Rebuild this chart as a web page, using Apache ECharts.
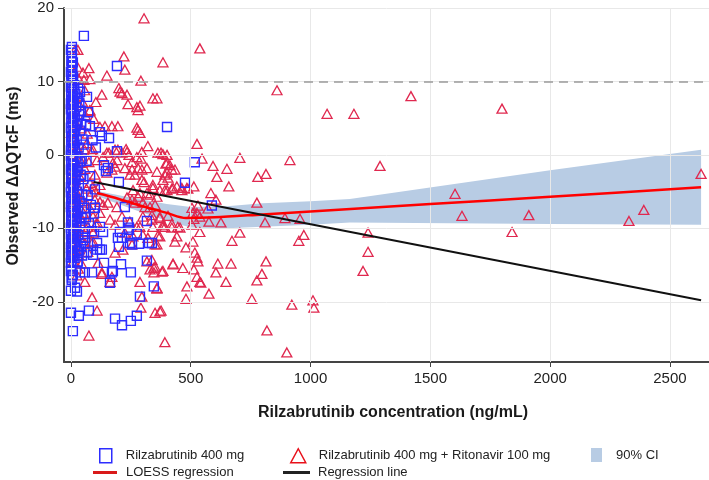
<!DOCTYPE html>
<html><head><meta charset="utf-8">
<script src="https://cdn.jsdelivr.net/npm/echarts@6/dist/echarts.min.js"></script>
<style>html,body{margin:0;padding:0;background:#fff}#c{width:709px;height:480px}</style>
</head><body><div id="c"></div>
<script>
const xTicks = [0, 500, 1000, 1500, 2000, 2500];
const yTicks = [-20, -10, 0, 10, 20];
const refLineY = 10;
const xTitle = 'Rilzabrutinib concentration (ng/mL)';
const yTitle = 'Observed ΔΔQTcF (ms)';
const nameBlue = 'Rilzabrutinib 400 mg';
const nameRed = 'Rilzabrutinib 400 mg + Ritonavir 100 mg';
const nameCI = '90% CI';
const nameLoess = 'LOESS regression';
const nameReg = 'Regression line';

// Rilzabrutinib 400 mg (blue squares): [concentration, ddQTcF]
const bluePts = [
[2,9.8],[5,9.2],[1,8.6],[8,8.0],[3,7.5],[6,6.9],[0,6.2],[4,5.6],[9,5.0],[2,4.4],[7,3.8],[1,3.1],[5,2.5],[10,1.9],[3,1.2],[0,0.6],[6,0.0],[2,-0.7],[8,-1.3],[4,-1.9],[1,-2.6],[7,-3.2],[3,-3.8],[9,-4.5],[0,-5.1],[5,-5.7],[2,-6.4],[8,-7.0],[4,-7.6],[1,-8.3],[6,-8.9],[3,-9.5],[10,-10.2],[0,-10.8],[5,-11.4],[2,-12.1],[7,-12.7],[4,-13.3],[1,-15.2],[6,-16.4],[3,-17.0],
[0,9.3],[1,7.9],[0,7.0],[2,5.1],[0,3.7],[1,2.0],[0,-0.1],[1,-1.2],[0,-2.0],[1,-3.3],[0,-4.4],[1,-6.0],[0,-7.1],[1,-9.0],[0,-9.9],[1,-11.8],[0,-12.6],[1,-13.6],[0,-15.8],[2,-14.4],
[11,8.9],[9,7.3],[11,6.0],[10,4.6],[11,3.3],[9,0.9],[11,-0.6],[10,-2.2],[11,-4.0],[9,-5.4],[11,-6.7],[10,-8.3],[11,-9.7],[9,-11.2],[11,-12.0],[10,-13.8],
[14,9.5],[18,8.3],[12,7.2],[22,6.5],[16,5.3],[20,4.0],[13,2.8],[24,2.0],[17,0.9],[21,-0.2],[15,-1.5],[23,-2.3],[19,-3.5],[12,-4.2],[25,-5.0],[16,-6.0],[21,-6.8],[14,-7.9],[18,-8.7],[23,-9.6],[13,-10.4],[20,-11.2],[17,-12.3],[24,-13.1],[15,-14.0],[22,-8.1],[19,-2.9],[13,1.6],[18,3.4],[25,7.7],
[30,9.0],[35,7.1],[42,6.0],[28,4.7],[38,3.3],[48,2.1],[32,1.0],[45,-0.5],[29,-1.8],[40,-2.7],[52,-3.3],[33,-4.1],[47,-5.4],[36,-6.3],[55,-7.2],[30,-7.7],[44,-8.6],[38,-9.3],[58,-10.0],[31,-10.9],[50,-11.6],[41,-12.4],[34,-13.0],[46,-13.7],[60,-12.0],[27,-14.6],[39,-0.9],[53,1.4],[43,4.2],[34,5.5],
[3,12.0],[6,11.5],[1,11.0],[9,10.6],[4,13.4],[2,12.8],
[54,16.2],[192,12.1],[401,3.8],[67,7.9],[63,4.1],[38,8.6],[79,3.9],[121,3.1],[129,2.6],[159,2.3],[104,1.0],[192,0.5],[517,-1.0],[476,-3.8],[138,-1.4],[154,-1.8],[146,-2.2],[200,-3.7],[588,-6.9],[225,-7.1],[238,-9.2],[317,-9.0],[242,-10.2],[275,-10.7],
[4,14.7],[0,14.3],[4,13.9],[8,12.6],[4,12.2],[0,11.3],[4,10.2],[0,-18.5],[17,-18.1],[25,-18.6],[0,-21.5],[33,-21.9],[75,-21.2],[8,-24.0],
[184,-22.3],[213,-23.2],[250,-22.6],[275,-21.9],[288,-19.3],[346,-17.9],[317,-14.4],[326,-12.0],[338,-12.0],[163,-17.4],[175,-15.8],[171,-16.0],[138,-14.7],[109,-12.9],[250,-16.0],[209,-14.9],[200,-12.5],[213,-11.3],[255,-12.2],[242,-9.9],[121,-9.8],[29,-14.5],[4,-16.7],[8,-16.3],[38,-16.0],[58,-16.0],[88,-16.0],[67,-13.3],[92,-13.6],[58,-11.3],[0,-13.9],[0,-14.7],[129,-12.9],[284,-12.1],
[204,-10.5],[196,-11.3],[246,-12.0],[134,-10.5],[109,-12.0],[121,-12.9],
[70,-5.5],[83,-6.8],[96,-8.0],[75,-9.3],[88,-10.4],[62,-8.5],[100,-4.7],[80,-2.9],[65,-0.8],[90,2.0],[72,5.8],[100,-7.2]
];

// Rilzabrutinib 400 mg + Ritonavir 100 mg (red triangles)
const redPts = [
[305,18.6],[538,14.5],[384,12.6],[221,13.4],[225,11.6],[150,10.8],[292,10.1],[860,8.8],[1419,8.0],[1799,6.3],[1069,5.6],[1181,5.6],[1290,-1.5],[1603,-5.3],[1632,-8.3],[1911,-8.2],[2329,-9.0],[2391,-7.5],[2630,-2.6],[1841,-10.5],[1240,-10.6],[1240,-13.2],[1219,-15.8],
[17,14.3],[29,14.3],[75,11.8],[50,11.2],[54,10.2],[79,10.3],[27,12.0],[13,11.3],
[129,8.2],[200,9.1],[205,8.6],[213,8.4],[234,8.2],[238,6.9],[275,6.5],[280,6.1],[288,6.7],[342,7.7],[359,7.7],[104,7.2],[79,6.1],[121,3.8],[142,3.9],[171,3.9],[196,3.9],[275,3.7],[288,3.0],[280,3.4],[321,1.2],[363,0.3],[376,0.3],[384,0.1],[296,0.4],[292,-0.5],[230,0.8],[234,0.4],[242,0.0],[184,0.7],[159,0.3],[275,-0.3],[396,-1.2],[421,-2.0],[392,-2.7],[405,-3.1],[359,-2.3],[317,-1.8],[296,-2.0],[255,-2.0],[225,-1.8],[184,-1.6],[267,-2.7],[305,-3.7],[384,-3.4],[342,-4.5],[392,-4.8],[421,-4.6],[442,-4.3],[463,-4.8],[484,-4.5],[317,-5.2],[359,-5.7],[280,-5.7],[300,-6.5],[330,-7.1],[351,-6.8],[255,-6.1],[405,-8.3],[371,-8.6],[338,-8.8],[455,-9.9],[384,-9.8],[288,-9.8],
[401,0.0],[213,0.3],[196,0.7],[192,-0.7],[175,-1.1],[255,-1.0],[401,-1.1],[413,-1.4],[434,-2.0],[401,-2.4],[280,-1.8],[171,-2.0],[150,-2.4],[246,-2.7],[296,-3.4],[342,-4.1],[371,-4.8],[401,-4.8],[426,-4.5],[288,-5.2],[330,-5.4],[259,-4.8],[234,-5.8],[267,-6.5],[309,-7.1],[192,-7.1],[154,-6.5],[300,-8.4],[338,-8.2],[371,-8.4],[392,-9.8],[421,-9.9],[446,-9.8],[342,-9.8],[442,-11.1],[246,-9.1],[275,-9.8],[225,-10.6],[259,-11.1],[371,-11.1],[321,-11.3],[213,-8.4],[184,-9.5],[163,-8.8],[121,-7.9],[92,-8.4],[109,-9.2],[71,-9.8],[92,-10.6],[79,-3.8],[92,-4.3],[121,-4.1],[88,-5.0],[100,-6.1],[121,-6.4],[134,-6.8],[17,1.4],[17,-3.4],[25,-5.2],[17,-6.1],[67,1.6],[88,0.4],[46,-1.1],[134,-0.3],[150,0.3],[109,-0.7],
[526,1.5],[547,-0.5],[705,-0.4],[914,-0.7],[593,-1.5],[651,-1.9],[609,-3.0],[659,-4.3],[780,-3.0],[814,-2.6],[584,-5.2],[605,-6.1],[776,-6.5],[893,-8.6],[956,-8.7],[810,-9.2],[526,-7.9],[626,-9.2],[513,-8.7],[576,-9.1],[538,-8.4],[509,-7.9],[572,-7.3],[530,-6.9],[505,-7.2],[488,-4.6],[513,-4.3],[463,-4.5],[972,-10.9],
[384,-9.5],[421,-9.4],[480,-12.6],[426,-14.9],[467,-15.4],[484,-17.9],[480,-19.6],[576,-18.9],[613,-14.8],[605,-16.0],[647,-17.3],[668,-14.8],[672,-11.7],[705,-10.6],[814,-14.5],[797,-16.2],[776,-17.1],[755,-19.6],[818,-23.9],[901,-26.9],[922,-20.4],[1010,-19.8],[1014,-20.8],[951,-11.7],[509,-11.8],[517,-13.3],[526,-14.0],[530,-14.5],[513,-15.6],[526,-16.6],[538,-17.3],[505,-9.5],[538,-10.5],[542,-17.4],[392,-25.5],[371,-21.3],[351,-21.5],[296,-19.3],[292,-20.8],[109,-21.2],[88,-19.4],[75,-24.6],[171,-16.6],[163,-17.3],[129,-16.2],[113,-14.7],[338,-14.3],[346,-15.4],[384,-15.8],[346,-16.0],[359,-18.1],[317,-14.5],[288,-17.3],[351,-12.2],[363,-11.0],[300,-10.9],[58,-17.3],[129,-16.0],[25,-16.4],[426,-14.8],[351,-15.2],[380,-15.9],[330,-15.6],[376,-21.2],[359,-18.2],
[29,-12.2],[58,-12.0],[92,-11.8],[184,-13.3],[217,-12.9],[255,-12.2],[359,-12.2],[434,-11.8],
[5,9.5],[10,8.4],[3,7.0],[15,6.2],[8,5.1],[20,4.3],[2,3.0],[12,2.2],[25,1.0],[6,0.1],[18,-0.8],[30,-1.6],[4,-2.5],[14,-3.3],[22,-4.1],[9,-5.0],[28,-5.8],[2,-6.6],[16,-7.4],[35,-8.1],[7,-8.9],[24,-9.8],[12,-10.6],[40,-11.3],[3,-12.1],[19,-12.9],[32,-13.6],[10,-14.5],[45,-9.0],[50,-6.3],[38,-3.0],[55,0.8],[42,3.6],[60,5.4],[48,7.2],[33,10.3],[58,-1.9],[65,-4.6],[52,-7.9],[62,-10.5],[70,-13.2],[68,2.9],[46,-0.5],[36,6.8],[57,8.8],[21,-11.0],[44,-14.8],[31,-15.5],[8,-13.0],[63,-6.5],[75,-1.0],[80,-7.3],[85,-11.8],[90,0.8],[95,4.9],[78,6.0],[100,-2.7],[105,-9.5]
];

const loessPts = [[108,-5.2],[200,-6.0],[300,-7.0],[400,-7.9],[480,-8.6],[600,-8.5],[800,-8.1],[1000,-7.7],[1500,-6.7],[2000,-5.7],[2630,-4.4]];
const ciUpper = [[108,-4.9],[250,-5.8],[400,-6.7],[500,-7.1],[650,-7.0],[800,-6.6],[1000,-6.3],[1164,-6.0],[2000,-2.1],[2630,0.7]];
const ciLower = [[108,-5.6],[250,-7.3],[400,-9.0],[500,-9.9],[650,-10.0],[800,-9.8],[1000,-9.5],[1164,-9.2],[2000,-9.4],[2630,-9.5]];
const regPts = [[95,-3.7],[2630,-19.8]];

const FONT = '"Liberation Sans", Arial, sans-serif';
const blueC = '#2d2dff', redC = '#e0284f', ciC = '#b8cce4';

const chart = echarts.init(document.getElementById('c'), null, {renderer: 'canvas'});
const gridLineStyle = {color: '#e8e8e8', width: 1, type: 'solid'};
const legendBase = {orient: 'horizontal', padding: 0, selectedMode: false, itemGap: 0,
  textStyle: {fontSize: 13, color: '#222', fontFamily: FONT}};
const plain = v => String(v);

chart.setOption({
  animation: false,
  textStyle: {fontFamily: FONT},
  grid: {left: 64, right: 0, top: 8, bottom: 118, containLabel: false},
  xAxis: {type: 'value', min: -29, max: 2663,
    axisLine: {show: true, onZero: false, lineStyle: {color: '#444', width: 2}},
    axisTick: {show: true, customValues: xTicks, length: 5, lineStyle: {color: '#444', width: 1}},
    axisLabel: {customValues: xTicks, formatter: plain, fontSize: 15, color: '#222', margin: 9, fontFamily: FONT},
    splitLine: {show: false}},
  yAxis: {type: 'value', min: -28.2, max: 20,
    axisLine: {show: true, onZero: false, lineStyle: {color: '#444', width: 2}},
    axisTick: {show: true, customValues: yTicks, length: 6, lineStyle: {color: '#444', width: 1}},
    axisLabel: {customValues: yTicks, formatter: plain, fontSize: 15, color: '#222', margin: 10, fontFamily: FONT},
    splitLine: {show: false}},
  legend: [
    Object.assign({}, legendBase, {left: 99, top: 448, itemWidth: 12, itemHeight: 14,
      data: [{name: nameBlue, icon: 'rect', itemStyle: {color: 'rgba(0,0,0,0)', borderColor: blueC, borderWidth: 1.5}}],
      textStyle: Object.assign({}, legendBase.textStyle, {padding: [0, 0, 0, 9]})}),
    Object.assign({}, legendBase, {left: 290, top: 448, itemWidth: 15, itemHeight: 14,
      data: [{name: nameRed, icon: 'triangle', itemStyle: {color: 'rgba(0,0,0,0)', borderColor: '#e8101a', borderWidth: 1.5}}],
      textStyle: Object.assign({}, legendBase.textStyle, {padding: [0, 0, 0, 8]})}),
    Object.assign({}, legendBase, {left: 591, top: 448, itemWidth: 11, itemHeight: 14,
      data: [{name: nameCI, icon: 'rect', itemStyle: {color: ciC, borderWidth: 0}}],
      textStyle: Object.assign({}, legendBase.textStyle, {padding: [0, 0, 0, 9]})}),
    Object.assign({}, legendBase, {left: 93, top: 466, itemWidth: 24, itemHeight: 3,
      data: [{name: nameLoess, icon: 'rect', itemStyle: {color: '#d91a1a'}}],
      textStyle: Object.assign({}, legendBase.textStyle, {padding: [0, 0, 0, 4]})}),
    Object.assign({}, legendBase, {left: 283, top: 466, itemWidth: 27, itemHeight: 3,
      data: [{name: nameReg, icon: 'rect', itemStyle: {color: '#222'}}],
      textStyle: Object.assign({}, legendBase.textStyle, {padding: [0, 0, 0, 3]})})
  ],
  graphic: [
    {type: 'text', x: 393, y: 413, style: {text: xTitle, font: 'bold 16px ' + FONT, fill: '#1a1a1a', textAlign: 'center', textVerticalAlign: 'middle'}},
    {type: 'text', x: 14, y: 176, rotation: Math.PI / 2, style: {text: yTitle, font: 'bold 16px ' + FONT, fill: '#1a1a1a', textAlign: 'center', textVerticalAlign: 'middle'}}
  ],
  series: [
    {type: 'line', name: 'grid', data: [], silent: true, z: 0,
      markLine: {silent: true, symbol: 'none', label: {show: false}, lineStyle: gridLineStyle, animation: false,
        data: xTicks.map(v => ({xAxis: v})).concat(yTicks.map(v => ({yAxis: v})))}},
    {type: 'line', name: 'ref', data: [], silent: true, z: 1,
      markLine: {silent: true, symbol: 'none', label: {show: false}, animation: false,
        lineStyle: {color: '#9a9a9a', width: 1.5, type: [9, 6]},
        data: [{yAxis: refLineY}]}},
    {type: 'custom', name: nameCI, z: 2, silent: true,
      itemStyle: {color: ciC},
      data: [[0, 0]],
      renderItem: function (params, api) {
        const pts = ciUpper.map(p => api.coord(p)).concat(ciLower.slice().reverse().map(p => api.coord(p)));
        return {type: 'polygon', shape: {points: pts}, style: {fill: ciC}};
      }},
    {type: 'scatter', name: nameRed, data: redPts, z: 3, symbol: 'triangle', symbolSize: [10, 9],
      itemStyle: {color: 'rgba(0,0,0,0)', borderColor: redC, borderWidth: 1.3, opacity: 1}, large: false},
    {type: 'scatter', name: nameBlue, data: bluePts, z: 4, symbol: 'rect', symbolSize: [9, 9],
      itemStyle: {color: 'rgba(0,0,0,0)', borderColor: blueC, borderWidth: 1.4, opacity: 1}, large: false},
    {type: 'line', name: nameLoess, data: loessPts, z: 5, symbol: 'none', smooth: 0.3,
      lineStyle: {color: '#ff0000', width: 2.5}, itemStyle: {color: '#ff0000'}},
    {type: 'line', name: nameReg, data: regPts, z: 6, symbol: 'none',
      lineStyle: {color: '#111', width: 2}, itemStyle: {color: '#111'}}
  ]
});
</script>
</body></html>
